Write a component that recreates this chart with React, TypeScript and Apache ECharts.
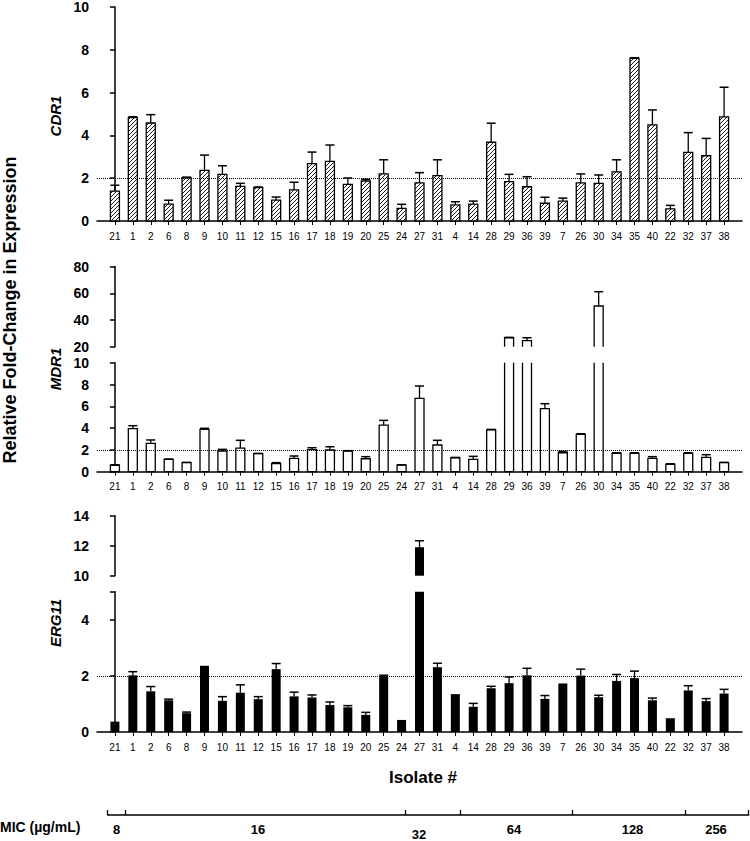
import React, { useEffect, useRef } from "react";
import * as echarts from "echarts";

// ---------- data ----------
const isolates = ["21","1","2","6","8","9","10","11","12","15","16","17","18","19","20","25","24","27","31","4","14","28","29","36","39","7","26","30","34","35","40","22","32","37","38"];

const cdr1Mean = [1.40,4.83,4.58,0.79,2.02,2.37,2.18,1.62,1.56,0.98,1.45,2.68,2.79,1.71,1.87,2.20,0.59,1.78,2.12,0.75,0.79,3.68,1.84,1.60,0.83,0.93,1.78,1.76,2.30,7.60,4.49,0.57,3.21,3.05,4.87];
const cdr1Err = [0.27,0.04,0.39,0.18,0.03,0.71,0.40,0.14,0.03,0.14,0.36,0.54,0.76,0.30,0.08,0.66,0.19,0.48,0.74,0.15,0.14,0.89,0.34,0.47,0.28,0.14,0.42,0.39,0.56,0.03,0.70,0.16,0.92,0.81,1.38];

const mdr1Mean = [0.59,3.95,2.60,1.13,0.83,3.89,1.90,2.17,1.65,0.74,1.23,2.02,1.99,1.90,1.19,4.28,0.61,6.73,2.45,1.28,1.13,3.83,26.7,24.5,5.78,1.74,3.43,50.5,1.69,1.69,1.23,0.68,1.69,1.32,0.83];
const mdr1Err = [0.05,0.27,0.31,0.03,0.03,0.09,0.15,0.71,0.03,0.09,0.21,0.18,0.30,0.03,0.19,0.43,0.03,1.13,0.43,0.03,0.28,0.05,0.3,2.2,0.46,0.13,0.05,10.7,0.05,0.05,0.15,0.05,0.05,0.24,0.03];

const erg11Mean = [0.37,2.02,1.45,1.13,0.67,2.36,1.11,1.40,1.17,2.24,1.27,1.23,0.96,0.88,0.61,2.05,0.43,11.9,2.31,1.35,0.90,1.56,1.74,2.02,1.18,1.73,2.01,1.24,1.82,1.92,1.13,0.49,1.48,1.10,1.37];
const erg11Err = [0,0.13,0.17,0.04,0.04,0,0.15,0.28,0.09,0.20,0.15,0.09,0.11,0.06,0.09,0,0,0.43,0.14,0,0.12,0.07,0.22,0.25,0.12,0,0.23,0.07,0.23,0.25,0.08,0,0.17,0.09,0.15];

const threshold = 2;

// MIC grouping axis (own scale)
const micBreaks = [0, 17.7, 298, 352.6, 464.1, 577.5, 641];
const micLabelPos = [8.8, 150.3, 311.3, 406.3, 524.8, 608.3];
const micLabels = ["8", "16", "32", "64", "128", "256"];

// ---------- styling ----------
const FONT = '"Liberation Sans", Arial, Helvetica, sans-serif';
const NARROW = '"Liberation Sans Narrow", "Liberation Sans", Arial, sans-serif';
const BAR_W = 9;
const CAP = 4.5;
const HATCH_STEP = 4;

const idx = isolates.map((_, i) => i);

function xAxisFor(gridIndex: number, show: boolean) {
  return {
    type: "value",
    gridIndex,
    min: -1,
    max: 35,
    show,
    splitLine: { show: false },
    axisLine: { show, onZero: false, lineStyle: { color: "#000", width: 1.5 } },
    axisTick: { show, customValues: idx, length: 4, lineStyle: { color: "#000", width: 1 } },
    axisLabel: {
      show,
      customValues: idx,
      formatter: (v: number) => isolates[Math.round(v)] ?? "",
      fontFamily: NARROW,
      fontSize: 10,
      color: "#000",
      margin: 10,
    },
  };
}

function yAxisFor(gridIndex: number, min: number, max: number, interval: number, labels?: number[], ticks?: number[]) {
  return {
    type: "value",
    gridIndex,
    min,
    max,
    interval,
    splitLine: { show: false },
    axisLine: { show: true, lineStyle: { color: "#000", width: 1.5 } },
    axisTick: { show: true, length: 5, lineStyle: { color: "#000", width: 1.5 }, ...(ticks ? { customValues: ticks } : {}) },
    axisLabel: {
      fontFamily: FONT,
      fontWeight: "bold",
      fontSize: 14,
      color: "#000",
      margin: 8,
      ...(labels ? { customValues: labels } : {}),
    },
  };
}

const errRender = (params: any, api: any) => {
  const i = api.value(0), v = api.value(1), e = api.value(2);
  if (!(e > 0)) return null;
  const p0 = api.coord([i, v]);
  const p1 = api.coord([i, v + e]);
  return {
    type: "group",
    children: [
      { type: "line", shape: { x1: p0[0], y1: p0[1], x2: p1[0], y2: p1[1] }, style: { stroke: "#000", lineWidth: 1.3 } },
      { type: "line", shape: { x1: p1[0] - CAP, y1: p1[1], x2: p1[0] + CAP, y2: p1[1] }, style: { stroke: "#000", lineWidth: 1.5 } },
    ],
  };
};

// white bar with "/" diagonal hatching
const hatchRender = (params: any, api: any) => {
  const i = api.value(0), v = api.value(1);
  const h = BAR_W / 2;
  const c = api.coord([i, v]);
  const b = api.coord([i, 0]);
  const x0 = c[0] - h, x1 = c[0] + h, yT = c[1], yB = b[1];
  const children: any[] = [
    { type: "rect", shape: { x: x0, y: yT, width: BAR_W, height: yB - yT }, style: { fill: "#fff", stroke: null } },
  ];
  const start = Math.ceil((x0 + yT) / HATCH_STEP) * HATCH_STEP;
  for (let C = start; C <= x1 + yB; C += HATCH_STEP) {
    const xa = Math.max(x0, C - yB);
    const xb = Math.min(x1, C - yT);
    if (xb - xa > 0.3) {
      children.push({ type: "line", shape: { x1: xa, y1: C - xa, x2: xb, y2: C - xb }, style: { stroke: "#000", lineWidth: 0.9 } });
    }
  }
  children.push({ type: "rect", shape: { x: x0, y: yT, width: BAR_W, height: yB - yT }, style: { fill: "none", stroke: "#000", lineWidth: 1.3 } });
  return { type: "group", children };
};

function openBarRender(lo: number, hi: number, upper: boolean) {
  return (params: any, api: any) => {
    const i = api.value(0), v = api.value(1);
    const h = BAR_W / 2;
    const c = api.coord([i, v]);
    const b = api.coord([i, lo]);
    const t = api.coord([i, hi]);
    const style = { fill: "#fff", stroke: "#000", lineWidth: 1.3 };
    if (!upper) {
      if (v <= hi) {
        return { type: "rect", shape: { x: c[0] - h, y: c[1], width: BAR_W, height: b[1] - c[1] }, style };
      }
      return {
        type: "polyline",
        shape: { points: [[c[0] - h, t[1]], [c[0] - h, b[1]], [c[0] + h, b[1]], [c[0] + h, t[1]]] },
        style: { fill: null, stroke: "#000", lineWidth: 1.3 },
      };
    }
    if (v < lo) return null;
    return {
      type: "polyline",
      shape: { points: [[c[0] - h, b[1]], [c[0] - h, c[1]], [c[0] + h, c[1]], [c[0] + h, b[1]]] },
      style: { fill: null, stroke: "#000", lineWidth: 1.3 },
    };
  };
}

const dotted = (y: number) => ({
  silent: true,
  symbol: "none",
  label: { show: false },
  lineStyle: { type: "dotted", color: "#000", width: 1 },
  data: [{ yAxis: y }],
});

function rotText(text: string, x: number, y: number, size: number, italic: boolean) {
  return {
    type: "text",
    x,
    y,
    rotation: Math.PI / 2,
    style: {
      text,
      fontFamily: FONT,
      fontSize: size,
      fontWeight: "bold",
      fontStyle: italic ? "italic" : "normal",
      fill: "#000",
      align: "center",
      verticalAlign: "middle",
    },
  };
}

export default function App() {
  const ref = useRef<HTMLDivElement>(null);
  useEffect(() => {
    if (!ref.current) return;
    const chart = echarts.init(ref.current, null, { renderer: "svg" });

    const cdrData = idx.map((i) => [i, cdr1Mean[i]]);
    const cdrErr = idx.map((i) => [i, cdr1Mean[i], cdr1Err[i]]);
    const mdrData = idx.map((i) => [i, mdr1Mean[i]]);
    const mdrErrLow = idx.filter((i) => mdr1Mean[i] <= 10).map((i) => [i, mdr1Mean[i], mdr1Err[i]]);
    const mdrErrUp = idx.filter((i) => mdr1Mean[i] >= 20).map((i) => [i, mdr1Mean[i], mdr1Err[i]]);
    const ergLow = idx.map((i) => [i, erg11Mean[i]]);
    const ergUp = idx.filter((i) => erg11Mean[i] >= 10).map((i) => [i, erg11Mean[i]]);
    const ergErrLow = idx.filter((i) => erg11Mean[i] <= 5).map((i) => [i, erg11Mean[i], erg11Err[i]]);
    const ergErrUp = idx.filter((i) => erg11Mean[i] >= 10).map((i) => [i, erg11Mean[i], erg11Err[i]]);

    const option: any = {
      animation: false,
      backgroundColor: "#fff",
      grid: [
        { left: 97, width: 645, top: 7, height: 214 },
        { left: 97, width: 645, top: 266.6, height: 80.1 },
        { left: 97, width: 645, top: 362.7, height: 109 },
        { left: 97, width: 645, top: 515.7, height: 60 },
        { left: 97, width: 645, top: 591.7, height: 140.3 },
        { left: 107.7, width: 641, top: 790, height: 31 },
      ],
      xAxis: [
        xAxisFor(0, true),
        xAxisFor(1, false),
        xAxisFor(2, true),
        xAxisFor(3, false),
        xAxisFor(4, true),
        {
          type: "value",
          gridIndex: 5,
          min: 0,
          max: 641,
          splitLine: { show: false },
          axisLine: { show: true, lineStyle: { color: "#000", width: 1.5 } },
          axisTick: { show: true, inside: true, length: 5, customValues: micBreaks, lineStyle: { color: "#000", width: 1.3 } },
          axisLabel: {
            customValues: micLabelPos,
            formatter: (v: number) => {
              const k = micLabelPos.findIndex((p) => Math.abs(p - v) < 0.01);
              const s = k >= 0 ? micLabels[k] : "";
              return s === "32" ? "{low|" + s + "}" : s;
            },
            rich: { low: { fontFamily: FONT, fontWeight: "bold", fontSize: 13, color: "#000", padding: [5, 0, 0, 0] } },
            fontFamily: FONT,
            fontWeight: "bold",
            fontSize: 13,
            color: "#000",
            margin: 8,
          },
        },
      ],
      yAxis: [
        yAxisFor(0, 0, 10, 2),
        yAxisFor(1, 20, 80, 20),
        yAxisFor(2, 0, 10, 2),
        yAxisFor(3, 10, 14, 2),
        yAxisFor(4, 0, 5, 1, [0, 2, 4], [0, 2, 4, 5]),
        { type: "value", gridIndex: 5, show: false, min: 0, max: 1 },
      ],
      series: [
        { type: "custom", xAxisIndex: 0, yAxisIndex: 0, data: cdrData, renderItem: hatchRender, markLine: dotted(threshold) },
        { type: "custom", xAxisIndex: 0, yAxisIndex: 0, data: cdrErr, renderItem: errRender, z: 3 },
        { type: "custom", xAxisIndex: 1, yAxisIndex: 1, data: mdrData, renderItem: openBarRender(20, 80, true) },
        { type: "custom", xAxisIndex: 1, yAxisIndex: 1, data: mdrErrUp, renderItem: errRender, z: 3 },
        { type: "custom", xAxisIndex: 2, yAxisIndex: 2, data: mdrData, renderItem: openBarRender(0, 10, false), markLine: dotted(threshold) },
        { type: "custom", xAxisIndex: 2, yAxisIndex: 2, data: mdrErrLow, renderItem: errRender, z: 3 },
        { type: "bar", xAxisIndex: 3, yAxisIndex: 3, data: ergUp, barWidth: BAR_W, itemStyle: { color: "#000" } },
        { type: "custom", xAxisIndex: 3, yAxisIndex: 3, data: ergErrUp, renderItem: errRender, z: 3 },
        { type: "bar", xAxisIndex: 4, yAxisIndex: 4, data: ergLow, barWidth: BAR_W, itemStyle: { color: "#000" }, markLine: dotted(threshold) },
        { type: "custom", xAxisIndex: 4, yAxisIndex: 4, data: ergErrLow, renderItem: errRender, z: 3 },
      ],
      graphic: [
        rotText("Relative Fold-Change in Expression", 10, 310, 18, false),
        rotText("CDR1", 55, 116, 15, true),
        rotText("MDR1", 55, 369, 15, true),
        rotText("ERG11", 55, 623, 15, true),
        {
          type: "text",
          x: 423,
          y: 777,
          style: { text: "Isolate #", fontFamily: FONT, fontSize: 17, fontWeight: "bold", fill: "#000", align: "center", verticalAlign: "middle" },
        },
        {
          type: "text",
          x: 0,
          y: 827,
          style: { text: "MIC (µg/mL)", fontFamily: FONT, fontSize: 14, fontWeight: "bold", fill: "#000", align: "left", verticalAlign: "middle" },
        },
      ],
    };
    chart.setOption(option);
    return () => chart.dispose();
  }, []);
  return <div ref={ref} style={{ position: "absolute", left: 0, top: 0, width: 750, height: 841 }} />;
}
